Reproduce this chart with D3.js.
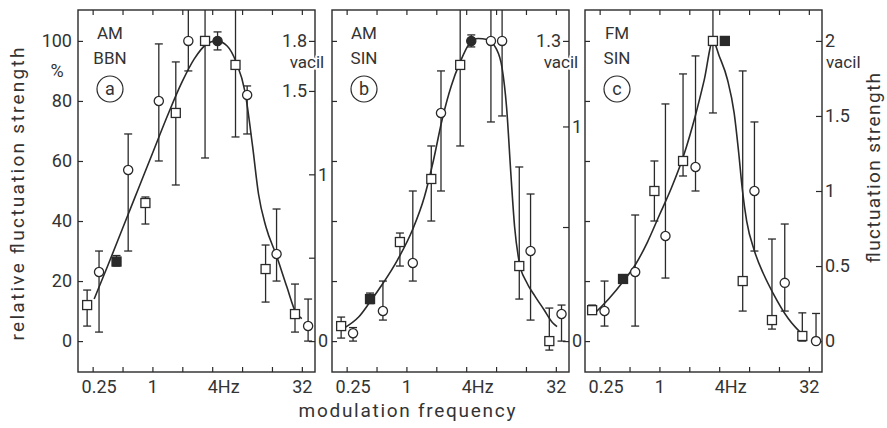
<!DOCTYPE html>
<html>
<head>
<meta charset="utf-8">
<script src="https://cdn.jsdelivr.net/npm/d3@7"></script>
<style>
  body { margin: 0; background: #fff; }
  text { font-family: Roboto, "DejaVu Sans", sans-serif; font-weight: 400; fill: #333; }
</style>
</head>
<body>
<script>
// ---- axis ticks ----
const freqTicks = [0.25, 0.5, 1, 2, 4, 8, 16, 32];
const freqLabels = ["0.25", "", "1", "", "4Hz", "", "", "32"];
const pctTicks = [0, 20, 40, 60, 80, 100];

// ---- panel a : AM BBN ----
const freqA = [0.22, 0.29, 0.435, 0.57, 0.85, 1.16, 1.72, 2.3, 3.39, 4.53, 6.87, 9.0, 13.8, 17.8, 27.3, 37];
const valA  = [12, 23, 26.5, 57, 46, 80, 76, 100, 100, 100, 92, 82, 24, 29, 9, 5];
const lowA  = [5, 3, 25, 30, 39, 60, 52, 90, 61, 97, 68, 69, 13, 20, 3, 0];
const highA = [17, 30, 28.5, 69, 48, 99, 93, 120, 120, 103, 120, 85, 32, 44, 19, 14];
const symA  = ["sq", "ci", "sqf", "ci", "sq", "ci", "sq", "ci", "sq", "cif", "sq", "ci", "sq", "ci", "sq", "ci"];
const fitFreqA = [0.259, 0.354, 0.5, 0.707, 1, 1.414, 2, 2.64, 3.48, 4.44, 5.66, 6.96, 8.57, 10.2, 11.71, 13.93, 17.75, 22.63, 27.86, 32];
const fitValA  = [14, 25, 37.5, 50, 62.5, 75, 86.5, 94, 98.8, 100, 98.3, 93, 83, 65, 49, 38, 28.5, 18, 9.5, 7.5];
const vacilTicksA = [0, 0.5, 1, 1.5, 1.8];
const vacilLabelsA = ["0", "", "1", "1.5", "1.8"];

// ---- panel b : AM SIN ----
const freqB = [0.22, 0.29, 0.43, 0.58, 0.86, 1.16, 1.78, 2.23, 3.48, 4.5, 7.1, 9.2, 13.7, 17.8, 27.5, 36.5];
const valB  = [5, 2.6, 14, 10, 33, 26, 54, 76, 92, 100, 100, 100, 25, 30, 0, 9];
const lowB  = [1, 0, 12.5, 7, 25, 20, 40, 50, 65, 98, 73, 75, 14, 7, -3, 0];
const highB = [8, 4.5, 16, 20, 36, 50, 65, 90, 120, 102, 120, 120, 58, 49, 11, 12];
const symB  = ["sq", "ci", "sqf", "ci", "sq", "ci", "sq", "ci", "sq", "cif", "ci", "ci", "sq", "ci", "sq", "ci"];
const fitFreqB = [0.232, 0.33, 0.429, 0.574, 0.812, 1.149, 1.516, 1.866, 2.297, 2.828, 3.482, 4.287, 5.278, 6.498, 8, 9.19, 10.2, 11.31, 12.3, 13.74, 16, 19.7, 24.25, 29.86, 32.9];
const fitValB  = [4.2, 8, 13, 19, 27, 37, 48, 60, 74, 85, 93, 99, 100.8, 100.5, 97.5, 91, 78, 55, 38, 26, 20, 15, 10.5, 6, 4.8];
const vacilTicksB = [0, 0.5, 1, 1.3];
const vacilPctB = [0, 38, 71.5, 100];
const vacilLabelsB = ["0", "", "1", "1.3"];

// ---- panel c : FM SIN ----
const freqC = [0.21, 0.28, 0.43, 0.57, 0.89, 1.15, 1.73, 2.31, 3.46, 4.56, 6.9, 9.06, 13.6, 18.3, 27.5, 37.8];
const valC  = [10.3, 10, 20.7, 23, 50, 35, 60, 58, 100, 100, 20, 50, 7, 19.4, 1.7, 0];
const lowC  = [9, 5, 19.5, 5, 40, 21, 55, 50, 76, 99, 10, 30, 4, 10, 0, -0.5];
const highC = [12, 20, 22, 42, 60, 79, 89, 95, 120, 101, 90, 73, 34, 39, 9.4, 9.2];
const symC  = ["sq", "ci", "sqf", "ci", "sq", "ci", "sq", "ci", "sq", "sqf", "sq", "ci", "sq", "ci", "sq", "ci"];
const fitFreqC = [0.222, 0.308, 0.435, 0.574, 0.758, 1, 1.32, 1.741, 2.297, 2.828, 3.458, 4, 4.857, 5.657, 6.276, 6.868, 7.568, 9.063, 11.31, 13.93, 19.84, 29.24];
const fitValC  = [9.2, 14, 20, 25.5, 33, 42, 51, 61.5, 75, 87, 100, 95, 87, 76, 63, 50, 40, 30, 22, 16, 7.5, 1.4];
const vacilTicksC = [0, 0.5, 1, 1.5, 2];
const vacilLabelsC = ["0", "0.5", "1", "1.5", "2"];

// ---- layout ----
const W = 887, H = 428;
const TOP = 10, BOTTOM = 372, PW = 237;
const INK = "#2a2a2a";

const svg = d3.select("body").append("svg").attr("width", W).attr("height", H);

const y = d3.scaleLinear().domain([-10.3, 110.3]).range([BOTTOM, TOP]);

const panels = [
  { left: 78, freq: freqA, val: valA, low: lowA, high: highA, sym: symA, fitF: fitFreqA, fitV: fitValA,
    vScale: d3.scaleLinear().domain([0, 1.8]).range([y(0), y(100)]),
    vTicks: vacilTicksA, vLabels: vacilLabelsA, vInside: ["1.5", "1.8"],
    title: ["AM", "BBN"], letter: "a", pctLabels: true, vacilInside: true },
  { left: 332, freq: freqB, val: valB, low: lowB, high: highB, sym: symB, fitF: fitFreqB, fitV: fitValB,
    vScale: d3.scaleLinear().domain(vacilTicksB).range(vacilPctB.map(y)),
    vTicks: vacilTicksB, vLabels: vacilLabelsB, vInside: ["1.3"],
    title: ["AM", "SIN"], letter: "b", pctLabels: false, vacilInside: true },
  { left: 585, freq: freqC, val: valC, low: lowC, high: highC, sym: symC, fitF: fitFreqC, fitV: fitValC,
    vScale: d3.scaleLinear().domain([0, 2]).range([y(0), y(100)]),
    vTicks: vacilTicksC, vLabels: vacilLabelsC, vInside: [],
    title: ["FM", "SIN"], letter: "c", pctLabels: false, vacilInside: false }
];

function styleAxis(g) {
  g.select(".domain").remove();
  g.attr("font-family", null).attr("font-size", 18);
  g.selectAll("line").attr("stroke", INK).attr("stroke-width", 1.2);
  g.selectAll("text").attr("fill", "#333");
}

panels.forEach(function (p) {
  const left = p.left, right = left + PW;
  const x = d3.scaleLog().base(2).domain([2 ** -2.49, 2 ** 5.44]).range([left, right]);
  const g = svg.append("g");

  // bottom axis with labels, top axis ticks only
  g.append("g").attr("transform", `translate(0,${BOTTOM})`)
    .call(d3.axisBottom(x).tickValues(freqTicks).tickSize(-5).tickPadding(8)
      .tickFormat((d, i) => freqLabels[i]))
    .call(styleAxis)
    .call(a => a.selectAll("text")
      .attr("dx", d => d === 0.25 ? 6 : d === 4 ? 11 : 0));
  g.append("g").attr("transform", `translate(0,${TOP})`)
    .call(d3.axisTop(x).tickValues(freqTicks).tickSize(-5).tickFormat(""))
    .call(styleAxis);

  // left percent axis
  g.append("g").attr("transform", `translate(${left},0)`)
    .call(d3.axisLeft(y).tickValues(pctTicks).tickSize(-5).tickPadding(6)
      .tickFormat(d => p.pctLabels ? d : ""))
    .call(styleAxis);

  // right vacil axis
  g.append("g").attr("transform", `translate(${right},0)`)
    .call(d3.axisRight(p.vScale).tickValues(p.vTicks).tickSize(-6).tickPadding(3)
      .tickFormat((d, i) => p.vLabels[i]))
    .call(styleAxis)
    .call(a => a.selectAll("text").each(function () {
      const t = d3.select(this);
      if (p.vInside.includes(t.text())) t.attr("x", -8).attr("text-anchor", "end");
    }));

  // frame
  g.append("rect")
    .attr("x", left).attr("y", TOP).attr("width", PW).attr("height", BOTTOM - TOP)
    .attr("fill", "none").attr("stroke", INK).attr("stroke-width", 1.4);

  // "vacil" unit
  const vTop = p.vScale(p.vTicks[p.vTicks.length - 1]);
  g.append("text")
    .attr("x", p.vacilInside ? right - 8 : right + 4)
    .attr("y", vTop + 27)
    .attr("text-anchor", p.vacilInside ? "middle" : "start")
    .attr("font-size", 17)
    .attr("stroke", "#fff").attr("stroke-width", 4).attr("paint-order", "stroke")
    .text("vacil");

  // condition label
  p.title.forEach((t, i) => {
    g.append("text")
      .attr("x", left + 32).attr("y", 39 + i * 25)
      .attr("text-anchor", "middle").attr("font-size", 17)
      .text(t);
  });
  g.append("circle")
    .attr("cx", left + 32).attr("cy", 89).attr("r", 13)
    .attr("fill", "none").attr("stroke", INK).attr("stroke-width", 1.2);
  g.append("text")
    .attr("x", left + 32).attr("y", 95)
    .attr("text-anchor", "middle").attr("font-size", 18)
    .text(p.letter);

  // fitted curve
  const idx = d3.range(p.fitF.length);
  const line = d3.line()
    .x(i => x(p.fitF[i]))
    .y(i => y(p.fitV[i]))
    .curve(d3.curveMonotoneX);
  g.append("path")
    .attr("d", line(idx))
    .attr("fill", "none").attr("stroke", INK).attr("stroke-width", 1.6);

  // error bars
  const pts = d3.range(p.freq.length);
  const ymax = y.domain()[1], ymin = y.domain()[0];
  const eb = g.selectAll(".eb").data(pts).join("g").attr("class", "eb");
  eb.append("line")
    .attr("x1", i => x(p.freq[i])).attr("x2", i => x(p.freq[i]))
    .attr("y1", i => y(Math.min(p.high[i], ymax)))
    .attr("y2", i => y(Math.max(p.low[i], ymin)))
    .attr("stroke", INK).attr("stroke-width", 1.3);
  eb.filter(i => p.high[i] < ymax).append("line")
    .attr("x1", i => x(p.freq[i]) - 4).attr("x2", i => x(p.freq[i]) + 4)
    .attr("y1", i => y(p.high[i])).attr("y2", i => y(p.high[i]))
    .attr("stroke", INK).attr("stroke-width", 1.3);
  eb.filter(i => p.low[i] > ymin).append("line")
    .attr("x1", i => x(p.freq[i]) - 4).attr("x2", i => x(p.freq[i]) + 4)
    .attr("y1", i => y(p.low[i])).attr("y2", i => y(p.low[i]))
    .attr("stroke", INK).attr("stroke-width", 1.3);

  // markers
  const mk = g.selectAll(".mk").data(pts).join("g").attr("class", "mk")
    .attr("transform", i => `translate(${x(p.freq[i])},${y(p.val[i])})`);
  mk.each(function (i) {
    const s = p.sym[i];
    const el = d3.select(this);
    const fill = s.endsWith("f") ? INK : "#fff";
    if (s.startsWith("ci")) {
      el.append("circle").attr("r", 4.6);
    } else {
      el.append("rect").attr("x", -4.5).attr("y", -4.5).attr("width", 9).attr("height", 9);
    }
    el.selectAll("*").attr("fill", fill).attr("stroke", INK).attr("stroke-width", 1.3);
  });
});

// "%" unit under 100
svg.append("text")
  .attr("x", 57).attr("y", y(90) + 6)
  .attr("text-anchor", "middle").attr("font-size", 18)
  .text("%");

// axis titles
svg.append("text")
  .attr("x", 407).attr("y", 417)
  .attr("text-anchor", "middle").attr("font-size", 19)
  .attr("textLength", 217).attr("lengthAdjust", "spacing")
  .text("modulation frequency");

svg.append("text")
  .attr("transform", "translate(24,194) rotate(-90)")
  .attr("text-anchor", "middle").attr("font-size", 19)
  .attr("textLength", 293).attr("lengthAdjust", "spacing")
  .text("relative fluctuation strength");

svg.append("text")
  .attr("transform", "translate(880,168) rotate(-90)")
  .attr("text-anchor", "middle").attr("font-size", 19)
  .attr("textLength", 190).attr("lengthAdjust", "spacing")
  .text("fluctuation strength");
</script>
</body>
</html>
